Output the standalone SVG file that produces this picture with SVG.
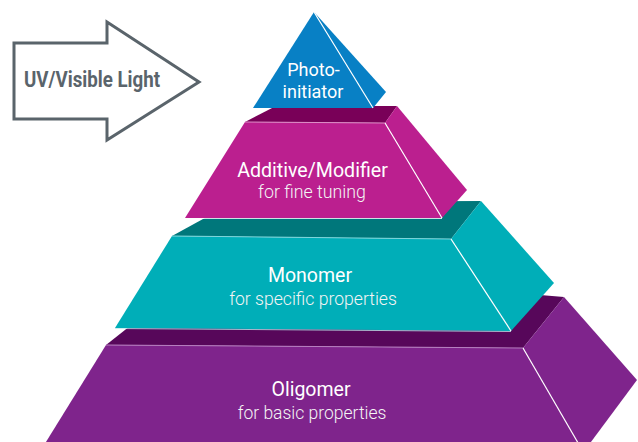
<svg xmlns="http://www.w3.org/2000/svg" width="638" height="442" viewBox="0 0 638 442">
  <style>
    .edge { stroke: #ffffff; stroke-width: 1.2; fill: none; }
    .t-main { font-family: Roboto, "Liberation Sans", sans-serif; font-weight: 400; fill: #ffffff; text-anchor: middle; }
    .t-sub { font-family: Roboto, "Liberation Sans", sans-serif; font-weight: 300; fill: #f4f4f4; text-anchor: middle; }
    .t-pho { font-family: Roboto, "Liberation Sans", sans-serif; font-weight: 400; fill: #ffffff; text-anchor: middle; }
    .oli { fill: #7f248c; }
    .oli-top { fill: #57075a; }
    .mon { fill: #00aeb8; }
    .mon-top { fill: #00777b; }
    .add { fill: #bb1f8f; }
    .add-top { fill: #790058; }
    .pho { fill: #0880c5; }
  </style>
  <rect width="638" height="442" fill="#ffffff"/>

  <g id="uv-light">
    <polygon points="14,43 107,43 107,22 199,82 107,140 107,119 14,119" fill="#ffffff" stroke="#5a646b" stroke-width="3" stroke-linejoin="miter"/>
    <text x="92" y="87" font-family="Roboto, 'Liberation Sans', sans-serif" font-weight="700" font-size="22" fill="#5a646b" text-anchor="middle" textLength="136" lengthAdjust="spacingAndGlyphs">UV/Visible Light</text>
  </g>

  <g id="oligomer">
    <polygon class="oli-top" points="106,345 130,326 540,295 564,297 523,348"/>
    <polygon class="oli" points="106,345 523,348 582,450 41,450"/>
    <polygon class="oli" points="523,348 564,297 637,380 585,450 580,450"/>
    <line class="edge" x1="523" y1="348" x2="581" y2="448"/>
    <line x1="106" y1="345" x2="523" y2="348" stroke="#b77fc0" stroke-width="1"/>
    <text class="t-main" x="311" y="396" font-size="19.5">Oligomer</text>
    <text class="t-sub" x="312" y="419" font-size="17.5">for basic properties</text>
  </g>

  <g id="monomer">
    <polygon class="mon-top" points="172,236 234,202 481,201 451,239"/>
    <polygon class="mon" points="172,236 451,239 511,331 115,328"/>
    <polygon class="mon" points="451,239 481,201 554,283 511,331"/>
    <line class="edge" x1="451" y1="239" x2="511" y2="331"/>
    <line x1="172" y1="236" x2="451" y2="239" stroke="#7fd6db" stroke-width="1"/>
    <line x1="115" y1="328.5" x2="511" y2="331.5" stroke="#bfe9ec" stroke-width="0.8"/>
    <text class="t-main" x="310" y="282" font-size="19.5">Monomer</text>
    <text class="t-sub" x="313" y="305" font-size="17.6">for specific properties</text>
  </g>

  <g id="additive">
    <polygon class="add-top" points="245,122 276,106 397,106 385,123"/>
    <polygon class="add" points="245,122 385,123 442,218 185,218"/>
    <polygon class="add" points="385,123 397,106 467,190 442,218"/>
    <line class="edge" x1="385" y1="123" x2="442" y2="218"/>
    <line x1="245" y1="122" x2="385" y2="123" stroke="#dd8fc7" stroke-width="1"/>
    <line x1="185" y1="218.5" x2="442" y2="218.5" stroke="#ffffff" stroke-width="0.8"/>
    <text class="t-main" x="312.5" y="177" font-size="19.6">Additive/Modifier</text>
    <text class="t-sub" x="312" y="198" font-size="17.8">for fine tuning</text>
  </g>

  <g id="photoinitiator">
    <polygon class="pho" points="314,12 373,108 253,108"/>
    <polygon class="pho" points="314,12 386,92 373,108"/>
    <line class="edge" x1="314" y1="12" x2="373" y2="108"/>
    <text class="t-pho" x="313.5" y="76" font-size="18">Photo-</text>
    <text class="t-pho" x="313" y="98" font-size="18">initiator</text>
  </g>

  <g id="connectors"></g>
</svg>
